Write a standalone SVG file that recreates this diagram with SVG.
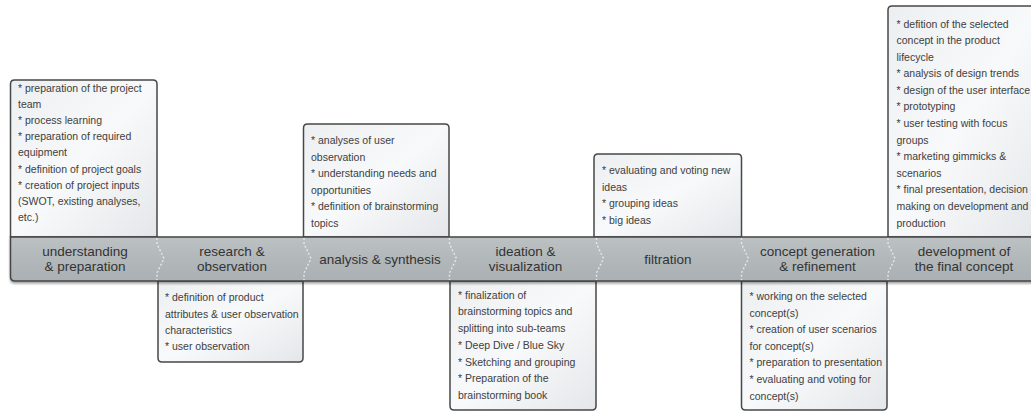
<svg xmlns="http://www.w3.org/2000/svg" width="1031" height="413" viewBox="0 0 1031 413">
  <defs>
    <linearGradient id="boxFill" x1="0" y1="0" x2="1" y2="1">
      <stop offset="0" stop-color="#eceff1"/>
      <stop offset="0.5" stop-color="#f8f9fa"/>
      <stop offset="1" stop-color="#e4e7ea"/>
    </linearGradient>
    <linearGradient id="bandFill" x1="0" y1="0" x2="0" y2="1">
      <stop offset="0" stop-color="#bcc1c4"/>
      <stop offset="0.5" stop-color="#b2b7ba"/>
      <stop offset="1" stop-color="#aab0b3"/>
    </linearGradient>
    <filter id="soft" x="-5%" y="-5%" width="110%" height="120%">
      <feGaussianBlur in="SourceAlpha" stdDeviation="1.2"/>
      <feOffset dx="0" dy="1.5" result="b"/>
      <feComponentTransfer><feFuncA type="linear" slope="0.35"/></feComponentTransfer>
      <feMerge><feMergeNode/><feMergeNode in="SourceGraphic"/></feMerge>
    </filter>
  </defs>
  <style>
    .box { fill: url(#boxFill); stroke: #474747; stroke-width: 1.5; }
    .t { font-family: "Liberation Sans", Arial, sans-serif; font-size: 10.5px; fill: #404040; }
    .lbl { font-family: "Liberation Sans", Arial, sans-serif; font-size: 13.5px; fill: #333333; text-anchor: middle; }
    .band { fill: url(#bandFill); stroke: #444444; stroke-width: 1.5; }
    .div { fill: none; stroke: #e4e8ea; stroke-width: 1.4; stroke-dasharray: 2 2; }
  </style>

  <rect width="1031" height="413" fill="#ffffff"/>

  <!-- boxes above the band -->
  <g id="box-understanding">
    <path class="box" d="M10.5,237 V84 Q10.5,80 14.5,80 H153 Q157,80 157,84 V237 Z"/>
    <text class="t">
      <tspan x="18" y="91.8">* preparation of the project</tspan>
      <tspan x="18" y="108">team</tspan>
      <tspan x="18" y="124.1">* process learning</tspan>
      <tspan x="18" y="140.3">* preparation of required</tspan>
      <tspan x="18" y="156.4">equipment</tspan>
      <tspan x="18" y="172.6">* definition of project goals</tspan>
      <tspan x="18" y="188.7">* creation of project inputs</tspan>
      <tspan x="18" y="204.9">(SWOT, existing analyses,</tspan>
      <tspan x="18" y="221">etc.)</tspan>
    </text>
  </g>

  <g id="box-analysis">
    <path class="box" d="M303.5,237 V128 Q303.5,124 307.5,124 H445 Q449,124 449,128 V237 Z"/>
    <text class="t">
      <tspan x="311" y="144">* analyses of user</tspan>
      <tspan x="311" y="160.5">observation</tspan>
      <tspan x="311" y="177">* understanding needs and</tspan>
      <tspan x="311" y="193.5">opportunities</tspan>
      <tspan x="311" y="210">* definition of brainstorming</tspan>
      <tspan x="311" y="226.5">topics</tspan>
    </text>
  </g>

  <g id="box-filtration">
    <path class="box" d="M594,237 V158 Q594,154 598,154 H737.5 Q741.5,154 741.5,158 V237 Z"/>
    <text class="t">
      <tspan x="602" y="174">* evaluating and voting new</tspan>
      <tspan x="602" y="190.5">ideas</tspan>
      <tspan x="602" y="207">* grouping ideas</tspan>
      <tspan x="602" y="223.5">* big ideas</tspan>
    </text>
  </g>

  <g id="box-development">
    <path class="box" d="M888,237 V10 Q888,6 892,6 H1040 V237 Z"/>
    <text class="t">
      <tspan x="896.5" y="27.5">* defition of the selected</tspan>
      <tspan x="896.5" y="44.1">concept in the product</tspan>
      <tspan x="896.5" y="60.7">lifecycle</tspan>
      <tspan x="896.5" y="77.2">* analysis of design trends</tspan>
      <tspan x="896.5" y="93.8">* design of the user interface</tspan>
      <tspan x="896.5" y="110.4">* prototyping</tspan>
      <tspan x="896.5" y="127">* user testing with focus</tspan>
      <tspan x="896.5" y="143.6">groups</tspan>
      <tspan x="896.5" y="160.1">* marketing gimmicks &amp;</tspan>
      <tspan x="896.5" y="176.7">scenarios</tspan>
      <tspan x="896.5" y="193.3">* final presentation, decision</tspan>
      <tspan x="896.5" y="209.9">making on development and</tspan>
      <tspan x="896.5" y="226.5">production</tspan>
    </text>
  </g>

  <!-- boxes below the band -->
  <g id="box-research">
    <path class="box" d="M158,281 V358 Q158,362 162,362 H299 Q303,362 303,358 V281 Z"/>
    <text class="t">
      <tspan x="165" y="301.2">* definition of product</tspan>
      <tspan x="165" y="317.5">attributes &amp; user observation</tspan>
      <tspan x="165" y="333.7">characteristics</tspan>
      <tspan x="165" y="350">* user observation</tspan>
    </text>
  </g>

  <g id="box-ideation">
    <path class="box" d="M450,281 V406 Q450,410 454,410 H592 Q596,410 596,406 V281 Z"/>
    <text class="t">
      <tspan x="458" y="298.5">* finalization of</tspan>
      <tspan x="458" y="315.3">brainstorming topics and</tspan>
      <tspan x="458" y="332.1">splitting into sub-teams</tspan>
      <tspan x="458" y="348.8">* Deep Dive / Blue Sky</tspan>
      <tspan x="458" y="365.6">* Sketching and grouping</tspan>
      <tspan x="458" y="382.4">* Preparation of the</tspan>
      <tspan x="458" y="399.2">brainstorming book</tspan>
    </text>
  </g>

  <g id="box-concept">
    <path class="box" d="M741.5,281 V406 Q741.5,410 745.5,410 H883 Q887,410 887,406 V281 Z"/>
    <text class="t">
      <tspan x="749.5" y="300.2">* working on the selected</tspan>
      <tspan x="749.5" y="316.8">concept(s)</tspan>
      <tspan x="749.5" y="333.3">* creation of user scenarios</tspan>
      <tspan x="749.5" y="349.9">for concept(s)</tspan>
      <tspan x="749.5" y="366.4">* preparation to presentation</tspan>
      <tspan x="749.5" y="383">* evaluating and voting for</tspan>
      <tspan x="749.5" y="399.5">concept(s)</tspan>
    </text>
  </g>

  <!-- process band -->
  <g id="band" filter="url(#soft)">
    <path class="band" d="M10.5,237 H1040 V281 H15 Q10.5,281 10.5,276.5 Z"/>
  </g>

  <!-- chevron separators between phases -->
  <g id="connectors">
    <path class="div" d="M157,238 V244 L164,258.5 L157,273 V280"/>
    <path class="div" d="M304,238 V244 L311,258.5 L304,273 V280"/>
    <path class="div" d="M449.5,238 V244 L456.5,258.5 L449.5,273 V280"/>
    <path class="div" d="M596.5,238 V244 L603.5,258.5 L596.5,273 V280"/>
    <path class="div" d="M741.5,238 V244 L748.5,258.5 L741.5,273 V280"/>
    <path class="div" d="M888,238 V244 L895,258.5 L888,273 V280"/>
  </g>

  <!-- phase labels -->
  <g id="phase-understanding"><text class="lbl"><tspan x="85" y="256">understanding</tspan><tspan x="85" y="271">&amp; preparation</tspan></text></g>
  <g id="phase-research"><text class="lbl"><tspan x="232" y="256">research &amp;</tspan><tspan x="232" y="271">observation</tspan></text></g>
  <g id="phase-analysis"><text class="lbl"><tspan x="380" y="263.5">analysis &amp; synthesis</tspan></text></g>
  <g id="phase-ideation"><text class="lbl"><tspan x="525.5" y="256">ideation &amp;</tspan><tspan x="525.5" y="271">visualization</tspan></text></g>
  <g id="phase-filtration"><text class="lbl"><tspan x="668" y="263.5">filtration</tspan></text></g>
  <g id="phase-concept"><text class="lbl"><tspan x="817.5" y="256">concept generation</tspan><tspan x="817.5" y="271">&amp; refinement</tspan></text></g>
  <g id="phase-development"><text class="lbl"><tspan x="964" y="256">development of</tspan><tspan x="964" y="271">the final concept</tspan></text></g>
</svg>
